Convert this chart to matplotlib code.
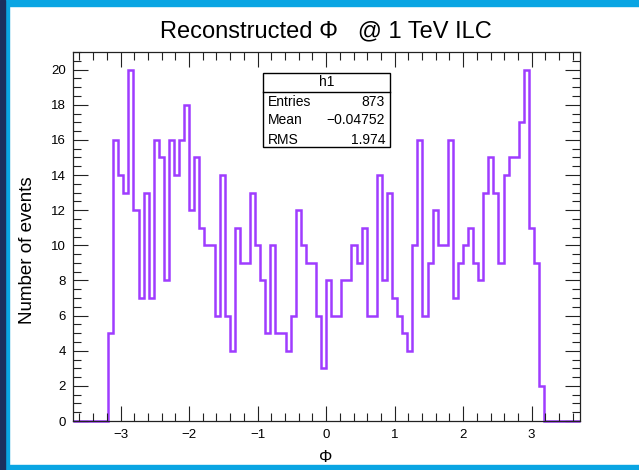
import numpy as np
import matplotlib
matplotlib.use("Agg")
import matplotlib.pyplot as plt
from matplotlib.patches import Rectangle
from matplotlib.ticker import MultipleLocator

plt.rcParams['font.family'] = ['Liberation Sans', 'DejaVu Sans']

# histogram h1: 100 bins on [-3.7, 3.7]
x_min, x_max, n_bins = -3.7, 3.7, 100
counts = (
    [0] * 7
    + [5, 16, 14, 13, 20, 12, 7, 13, 7, 16, 15, 8, 16, 14, 16, 18, 12, 15,
       11, 10, 10, 6, 14, 6, 4, 11, 9, 9, 13, 10, 8, 5,
       10, 5, 5, 4, 6, 12, 10, 9, 9, 6, 3, 8, 6, 6, 8, 8, 10, 9,
       11, 6, 6, 14, 8, 13, 7, 6, 5, 4, 10, 16, 6, 9, 12, 10, 10,
       16, 7, 9, 10, 11, 9, 8, 13, 15, 13, 9, 14, 15, 15, 17, 20, 11, 9, 2]
    + [0] * 7
)
stat_names = ["Entries", "Mean", "RMS"]
stat_values = ["873", "\u22120.04752", "1.974"]

edges = np.linspace(x_min, x_max, n_bins + 1)

W, H = 639, 470
fig = plt.figure(figsize=(W / 100, H / 100), dpi=100)

# window border (top, bottom, left)
navy, cyan = "#1b2f5e", "#0aa5e3"
for (x0, y0, w, h, c) in [(0, 0, W, 5, cyan), (0, H - 6, W, 6, cyan),
                          (0, 0, 9, H, cyan), (0, 0, 5, H, navy)]:
    fig.patches.append(Rectangle((x0 / W, y0 / H), w / W, h / H,
                                 transform=fig.transFigure, color=c, zorder=0))

ax = fig.add_axes([72.6 / W, 49 / H, 507 / W, 369 / H])
ax.stairs(counts, edges, color="#9f3cff", linewidth=1.8, clip_on=False)
ax.set_xlim(x_min, x_max)
ax.set_ylim(0, 21)

ax.xaxis.set_major_locator(MultipleLocator(1))
ax.xaxis.set_minor_locator(MultipleLocator(0.2))
ax.yaxis.set_major_locator(MultipleLocator(2))
ax.yaxis.set_minor_locator(MultipleLocator(0.5))
ax.tick_params(which="both", direction="in", top=True, right=True,
               labelsize=9.5, width=0.8, color="#222222")
ax.tick_params(axis="x", which="major", length=11, pad=6)
ax.tick_params(axis="x", which="minor", length=5.5)
ax.tick_params(axis="y", which="major", length=11, pad=5)
ax.tick_params(axis="y", which="minor", length=5.5)
for s in ax.spines.values():
    s.set_linewidth(0.9)
    s.set_color("#222222")

ax.set_xlabel("\u03a6", fontsize=12, va="center")
ax.xaxis.set_label_coords(0.5, -0.1)
ax.set_ylabel("Number of events", fontsize=13.5, va="center")
ax.yaxis.set_label_coords(-0.088, 0.463)

fig.text(326 / W, 1 - 31 / H, "Reconstructed \u03a6   @ 1 TeV ILC",
         ha="center", va="center", fontsize=17)

# stats box
bx0, bx1, by0, by1 = 262.7, 390, 73.3, 147.3
sep = 92
fig.patches.append(Rectangle((bx0 / W, 1 - by1 / H), (bx1 - bx0) / W,
                             (by1 - by0) / H, transform=fig.transFigure,
                             facecolor="white", edgecolor="black",
                             linewidth=1, zorder=5))
fig.add_artist(plt.Line2D([bx0 / W, bx1 / W], [1 - sep / H, 1 - sep / H],
                          transform=fig.transFigure, color="black",
                          linewidth=1, zorder=6))
fig.text((bx0 + bx1) / 2 / W, 1 - 82.5 / H, "h1", ha="center",
         va="center", fontsize=10, zorder=7)
for i, (name, val) in enumerate(zip(stat_names, stat_values)):
    yy = 1 - (101.5 + 19 * i) / H
    fig.text((bx0 + 5) / W, yy, name, ha="left", va="center",
             fontsize=10, zorder=7)
    fig.text((bx1 - 5) / W, yy, val, ha="right", va="center",
             fontsize=10, zorder=7)

fig.savefig("out.png", dpi=100)
